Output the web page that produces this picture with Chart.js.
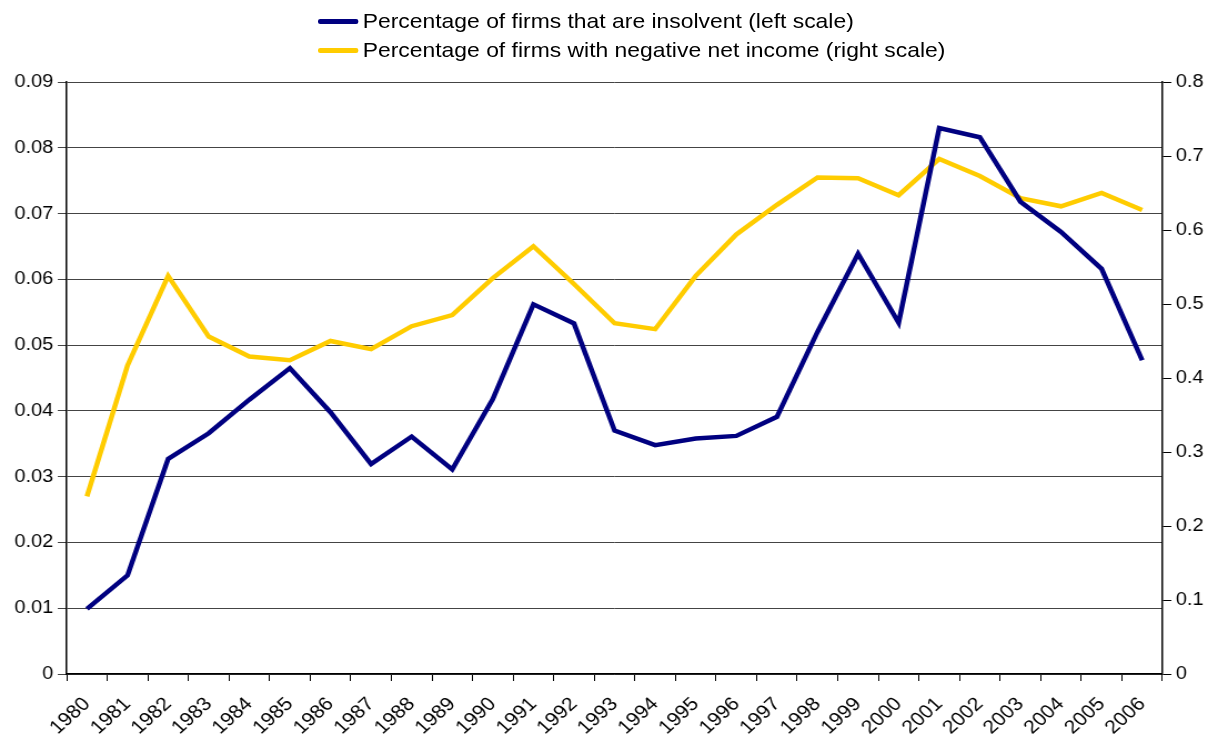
<!DOCTYPE html>
<html>
<head>
<meta charset="utf-8">
<script src="https://cdn.jsdelivr.net/npm/chart.js@4"></script>
<style>
  body { margin: 0; background: #fff; }
  #wrap { position: relative; width: 1218px; height: 738px; overflow: hidden; }
  #myChart { width: 1218px; height: 738px; }
  #legend { position: absolute; left: 318px; top: 6px; font-family: "Liberation Sans", Arial, sans-serif; font-size: 21px; color: #000; transform: scaleX(1.09); transform-origin: 0 0; }
  .item { height: 29px; line-height: 29px; white-space: nowrap; }
  .swatch { display: inline-block; width: 37px; height: 5px; border-radius: 2px; vertical-align: middle; margin-right: 4px; position: relative; top: -1px; }
</style>
</head>
<body>
<div id="wrap">
  <!-- drawn at 1097 wide, shown at 1218: the reference is stretched sideways -->
  <canvas id="myChart" width="1097" height="738" style="width:1218px;height:738px"></canvas>
  <div id="legend"></div>
</div>
<script>
// ---------------------------DATA---------------------------
var years = ["1980", "1981", "1982", "1983", "1984", "1985", "1986", "1987", "1988", "1989",
  "1990", "1991", "1992", "1993", "1994", "1995", "1996", "1997", "1998", "1999",
  "2000", "2001", "2002", "2003", "2004", "2005", "2006"];
var insolvent = [0.0099, 0.0150, 0.0327, 0.0366, 0.0417, 0.0465, 0.0398, 0.0319, 0.0361, 0.0311,
  0.0418, 0.0562, 0.0533, 0.0370, 0.0348, 0.0358, 0.0362, 0.0391, 0.0520, 0.0639,
  0.0534, 0.0830, 0.0816, 0.0718, 0.0672, 0.0616, 0.0477];
var negativeIncome = [0.240, 0.417, 0.538, 0.456, 0.429, 0.424, 0.450, 0.439, 0.470, 0.485,
  0.535, 0.578, 0.527, 0.474, 0.466, 0.538, 0.594, 0.634, 0.671, 0.670,
  0.647, 0.696, 0.673, 0.643, 0.632, 0.650, 0.627];
var leftTicks = [0, 0.01, 0.02, 0.03, 0.04, 0.05, 0.06, 0.07, 0.08, 0.09];
var rightTicks = [0, 0.1, 0.2, 0.3, 0.4, 0.5, 0.6, 0.7, 0.8];
var seriesNames = ["Percentage of firms that are insolvent (left scale)",
  "Percentage of firms with negative net income (right scale)"];
var seriesColors = ["#000080", "#FFCC00"];

// --------------------------LEGEND--------------------------
var legendHtml = "";
for (var i = 0; i < seriesNames.length; i++) {
  legendHtml += '<div class="item"><span class="swatch" style="background:' + seriesColors[i] + '"></span>' + seriesNames[i] + '</div>';
}
document.getElementById("legend").innerHTML = legendHtml;

// --------------------------CHART---------------------------
var font = { family: "'Liberation Sans', Arial, sans-serif", size: 18 };

new Chart("myChart", {
  type: "line",
  data: {
    labels: years,
    datasets: [{
      label: seriesNames[0],
      data: insolvent,
      borderColor: seriesColors[0],
      borderWidth: 4.5,
      pointRadius: 0,
      tension: 0,
      fill: false,
      yAxisID: "y"
    }, {
      label: seriesNames[1],
      data: negativeIncome,
      borderColor: seriesColors[1],
      borderWidth: 4.5,
      pointRadius: 0,
      tension: 0,
      fill: false,
      yAxisID: "y1"
    }]
  },
  options: {
    responsive: false,
    animation: false,
    devicePixelRatio: 1,
    layout: { padding: { top: 82, left: 9, right: 9, bottom: 0 } },
    plugins: {
      legend: { display: false },
      tooltip: { enabled: false }
    },
    scales: {
      x: {
        offset: true,
        afterFit: function (axis) { axis.height = 64; },
        grid: { offset: true, drawOnChartArea: false, drawTicks: true, tickLength: 7, color: "#000" },
        border: { color: "#000", width: 1.5 },
        ticks: { color: "#000", font: { family: font.family, size: 19 }, minRotation: 45, maxRotation: 45, padding: 12, autoSkip: false }
      },
      y: {
        position: "left",
        min: 0,
        max: 0.09,
        afterBuildTicks: function (axis) { axis.ticks = leftTicks.map(function (v) { return { value: v }; }); },
        grid: { color: "#444", lineWidth: 1, tickLength: 8, drawTicks: true },
        border: { color: "#000", width: 1.5 },
        ticks: { color: "#000", font: font, padding: 4, callback: function (v) { return String(+v.toFixed(2)); } }
      },
      y1: {
        position: "right",
        min: 0,
        max: 0.8,
        afterBuildTicks: function (axis) { axis.ticks = rightTicks.map(function (v) { return { value: v }; }); },
        grid: { drawOnChartArea: false, tickLength: 8, color: "#000" },
        border: { color: "#000", width: 1.5 },
        ticks: { color: "#000", font: font, padding: 4, callback: function (v) { return String(+v.toFixed(1)); } }
      }
    }
  }
});
</script>
</body>
</html>
